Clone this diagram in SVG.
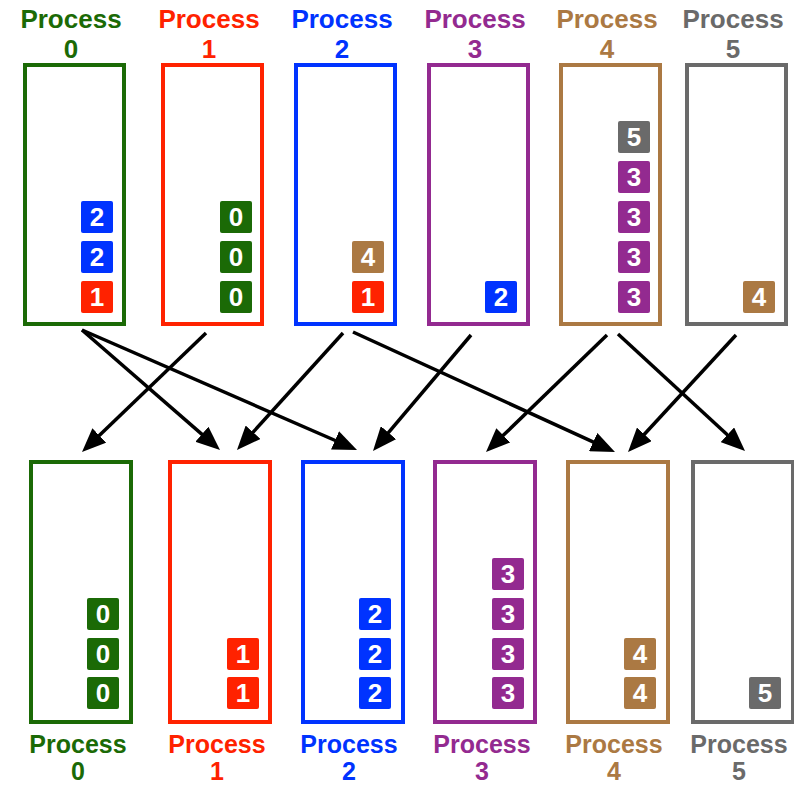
<svg xmlns="http://www.w3.org/2000/svg" width="794" height="786" viewBox="0 0 794 786">
<defs>
<style>
.box{fill:#fff;stroke-width:4}
.lbl{font-family:"Liberation Sans",Arial,sans-serif;font-weight:bold;font-size:26px;text-anchor:middle}
.lb{font-family:"Liberation Sans",Arial,sans-serif;font-weight:bold;font-size:25px;text-anchor:middle}
.d{font-family:"Liberation Sans",Arial,sans-serif;font-weight:bold;font-size:26px;fill:#fff;text-anchor:middle}
.t0{fill:#1b6a06}.t1{fill:#ff2200}.t2{fill:#0033ff}.t3{fill:#932a90}.t4{fill:#ab7943}.t5{fill:#6a6a6a}
.b0{stroke:#1b6a06}.b1{stroke:#ff2200}.b2{stroke:#0033ff}.b3{stroke:#932a90}.b4{stroke:#ab7943}.b5{stroke:#6a6a6a}
.arr{stroke:#000;stroke-width:3.5;fill:none;marker-end:url(#ah)}
</style>
<marker id="ah" markerUnits="userSpaceOnUse" markerWidth="24" markerHeight="20" viewBox="0 0 24 20" refX="4" refY="10" orient="auto">
<path d="M0,0 L24,10 L0,20 z" fill="#000"/>
</marker>
<g id="s0"><rect width="32" height="32" rx="2" fill="#1b6a06"/><text class="d" x="16" y="25">0</text></g>
<g id="s1"><rect width="32" height="32" rx="2" fill="#ff2200"/><text class="d" x="16" y="25">1</text></g>
<g id="s2"><rect width="32" height="32" rx="2" fill="#0033ff"/><text class="d" x="16" y="25">2</text></g>
<g id="s3"><rect width="32" height="32" rx="2" fill="#932a90"/><text class="d" x="16" y="25">3</text></g>
<g id="s4"><rect width="32" height="32" rx="2" fill="#ab7943"/><text class="d" x="16" y="25">4</text></g>
<g id="s5"><rect width="32" height="32" rx="2" fill="#6a6a6a"/><text class="d" x="16" y="25">5</text></g>
</defs>
<rect width="794" height="786" fill="#fff"/>

<g id="top-p0">
<text class="lbl t0" x="71" y="28">Process</text><text class="lbl t0" x="71" y="58">0</text>
<rect class="box b0" x="25" y="65" width="99" height="259"/>
<use href="#s2" x="81" y="201"/><use href="#s2" x="81" y="241"/><use href="#s1" x="81" y="281"/>
</g>
<g id="top-p1">
<text class="lbl t1" x="209" y="28">Process</text><text class="lbl t1" x="209" y="58">1</text>
<rect class="box b1" x="163" y="65" width="99" height="259"/>
<use href="#s0" x="220" y="201"/><use href="#s0" x="220" y="241"/><use href="#s0" x="220" y="281"/>
</g>
<g id="top-p2">
<text class="lbl t2" x="342" y="28">Process</text><text class="lbl t2" x="342" y="58">2</text>
<rect class="box b2" x="296" y="65" width="99" height="259"/>
<use href="#s4" x="352" y="241"/><use href="#s1" x="352" y="281"/>
</g>
<g id="top-p3">
<text class="lbl t3" x="475" y="28">Process</text><text class="lbl t3" x="475" y="58">3</text>
<rect class="box b3" x="429" y="65" width="99" height="259"/>
<use href="#s2" x="485" y="281"/>
</g>
<g id="top-p4">
<text class="lbl t4" x="607" y="28">Process</text><text class="lbl t4" x="607" y="58">4</text>
<rect class="box b4" x="561" y="65" width="99" height="259"/>
<use href="#s5" x="618" y="121"/><use href="#s3" x="618" y="161"/><use href="#s3" x="618" y="201"/><use href="#s3" x="618" y="241"/><use href="#s3" x="618" y="281"/>
</g>
<g id="top-p5">
<text class="lbl t5" x="733" y="28">Process</text><text class="lbl t5" x="733" y="58">5</text>
<rect class="box b5" x="687" y="65" width="99" height="259"/>
<use href="#s4" x="743" y="281"/>
</g>

<g id="connectors">
<line class="arr" x1="82" y1="330" x2="204.9" y2="436.9"/>
<line class="arr" x1="82" y1="330" x2="338.7" y2="442"/>
<line class="arr" x1="206" y1="333" x2="96.4" y2="438.2"/>
<line class="arr" x1="343" y1="333" x2="250.4" y2="435.2"/>
<line class="arr" x1="353" y1="332" x2="596.8" y2="443.7"/>
<line class="arr" x1="471" y1="335" x2="385.9" y2="435.7"/>
<line class="arr" x1="607" y1="335" x2="500.4" y2="438.1"/>
<line class="arr" x1="618" y1="334" x2="730.3" y2="437.5"/>
<line class="arr" x1="736" y1="335" x2="641.6" y2="437.3"/>
</g>

<g id="bot-p0">
<rect class="box b0" x="31" y="462" width="100" height="260"/>
<use href="#s0" x="87" y="598"/><use href="#s0" x="87" y="638"/><use href="#s0" x="87" y="677"/>
<text class="lb t0" x="78" y="752.5">Process</text><text class="lb t0" x="78" y="780.3">0</text>
</g>
<g id="bot-p1">
<rect class="box b1" x="170" y="462" width="100" height="260"/>
<use href="#s1" x="227" y="638"/><use href="#s1" x="227" y="677"/>
<text class="lb t1" x="217" y="752.5">Process</text><text class="lb t1" x="217" y="780.3">1</text>
</g>
<g id="bot-p2">
<rect class="box b2" x="303" y="462" width="100" height="260"/>
<use href="#s2" x="359" y="598"/><use href="#s2" x="359" y="638"/><use href="#s2" x="359" y="677"/>
<text class="lb t2" x="349" y="752.5">Process</text><text class="lb t2" x="349" y="780.3">2</text>
</g>
<g id="bot-p3">
<rect class="box b3" x="435" y="462" width="100" height="260"/>
<use href="#s3" x="492" y="558"/><use href="#s3" x="492" y="598"/><use href="#s3" x="492" y="638"/><use href="#s3" x="492" y="677"/>
<text class="lb t3" x="482" y="752.5">Process</text><text class="lb t3" x="482" y="780.3">3</text>
</g>
<g id="bot-p4">
<rect class="box b4" x="568" y="462" width="100" height="260"/>
<use href="#s4" x="624" y="638"/><use href="#s4" x="624" y="677"/>
<text class="lb t4" x="614" y="752.5">Process</text><text class="lb t4" x="614" y="780.3">4</text>
</g>
<g id="bot-p5">
<rect class="box b5" x="693" y="462" width="100" height="260"/>
<use href="#s5" x="749" y="677"/>
<text class="lb t5" x="739" y="752.5">Process</text><text class="lb t5" x="739" y="780.3">5</text>
</g>
</svg>
